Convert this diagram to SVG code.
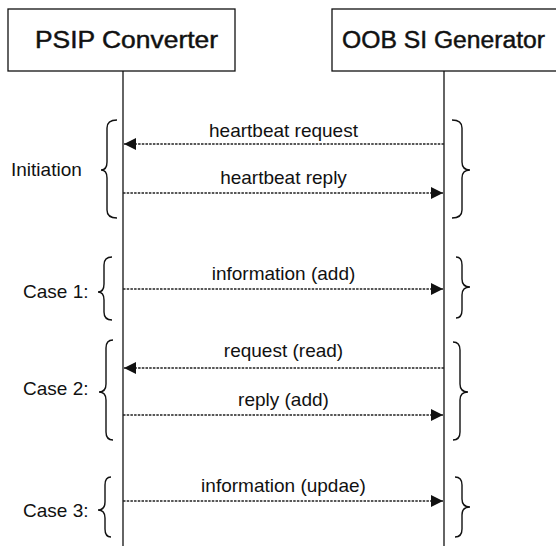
<svg xmlns="http://www.w3.org/2000/svg" width="556" height="546" viewBox="0 0 556 546">
<style>
.box{fill:#fff;stroke:#111;stroke-width:1.3}
.life{stroke:#111;stroke-width:1.3;fill:none}
.msg{stroke:#222;stroke-width:1.3;stroke-dasharray:2.5 1.2;fill:none}
.brace{stroke:#111;stroke-width:1.4;fill:none}
.t{font-family:"Liberation Sans",Arial,sans-serif;fill:#111}
.title{font-size:23px;stroke:#111;stroke-width:0.45}
.lbl{font-size:19px}
</style>
<defs>
<marker id="ah" viewBox="0 0 12 12" refX="12" refY="6" markerWidth="12" markerHeight="12" markerUnits="userSpaceOnUse" orient="auto-start-reverse">
<path d="M0,0 L12,6 L0,12 Z" fill="#111"/>
</marker>
</defs>
<rect width="556" height="546" fill="#fff"/>
<g id="psip-converter">
<rect class="box" x="8" y="9" width="227" height="62"/>
<text class="t title" x="35" y="48" textLength="183" lengthAdjust="spacingAndGlyphs">PSIP Converter</text>
<line class="life" x1="123" y1="71" x2="123" y2="546"/>
</g>
<g id="oob-si-generator">
<rect class="box" x="332" y="9" width="240" height="62"/>
<text class="t title" x="342" y="48" textLength="203" lengthAdjust="spacingAndGlyphs">OOB SI Generator</text>
<line class="life" x1="444" y1="71" x2="444" y2="546"/>
</g>
<g id="connectors">
<line class="msg" x1="444" y1="144" x2="124" y2="144" marker-end="url(#ah)"/>
<line class="msg" x1="123" y1="193" x2="443" y2="193" marker-end="url(#ah)"/>
<line class="msg" x1="123" y1="289" x2="443" y2="289" marker-end="url(#ah)"/>
<line class="msg" x1="444" y1="368" x2="124" y2="368" marker-end="url(#ah)"/>
<line class="msg" x1="123" y1="415" x2="443" y2="415" marker-end="url(#ah)"/>
<line class="msg" x1="123" y1="501" x2="443" y2="501" marker-end="url(#ah)"/>
</g>
<g id="message-labels" class="t lbl" text-anchor="middle">
<text x="283.5" y="137">heartbeat request</text>
<text x="283.5" y="184">heartbeat reply</text>
<text x="283.5" y="280">information (add)</text>
<text x="283.5" y="357">request (read)</text>
<text x="283.5" y="406">reply (add)</text>
<text x="283.5" y="492">information (updae)</text>
</g>
<g id="phase-labels" class="t lbl">
<text x="11" y="176">Initiation</text>
<text x="23" y="298">Case 1:</text>
<text x="23" y="395">Case 2:</text>
<text x="23" y="517">Case 3:</text>
</g>
<g id="braces">
<path class="brace" d="M117,120 Q107,120 107,128 L107,162 Q107,170 101,170 Q107,170 107,178 L107,210 Q107,218 117,218"/>
<path class="brace" d="M112,257 Q104,257 104,265 L104,284 Q104,292 98,292 Q104,292 104,300 L104,312 Q104,320 112,320"/>
<path class="brace" d="M113,340 Q106,340 106,348 L106,384 Q106,392 99,392 Q106,392 106,400 L106,432 Q106,440 113,440"/>
<path class="brace" d="M111,477 Q105,477 105,485 L105,502 Q105,510 98,510 Q105,510 105,518 L105,529 Q105,537 111,537"/>
<path class="brace" d="M452,120 Q462,120 462,128 L462,162 Q462,170 470,170 Q462,170 462,178 L462,210 Q462,218 452,218"/>
<path class="brace" d="M456,257 Q462,257 462,265 L462,279 Q462,287 470,287 Q462,287 462,295 L462,310 Q462,318 456,318"/>
<path class="brace" d="M453,342 Q460,342 460,350 L460,384 Q460,392 468,392 Q460,392 460,400 L460,432 Q460,440 453,440"/>
<path class="brace" d="M455,477 Q462,477 462,485 L462,499 Q462,507 470,507 Q462,507 462,515 L462,529 Q462,537 455,537"/>
</g>
</svg>
